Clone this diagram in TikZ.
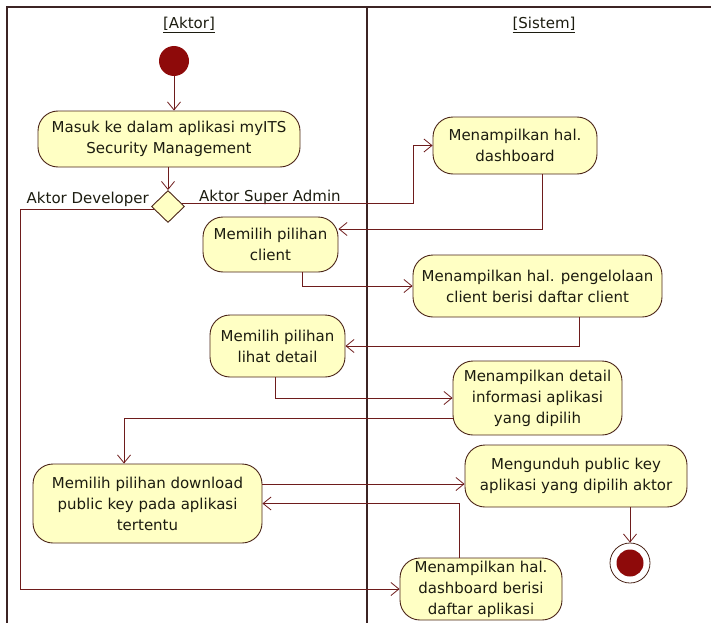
\documentclass[tikz,border=0pt]{standalone}
\usepackage{fontspec}
\setmainfont{DejaVu Sans}
\usetikzlibrary{arrows.meta,shapes.geometric}

\definecolor{flowline}{HTML}{6E1C1C}
\definecolor{boxline}{HTML}{4A2418}
\definecolor{boxfill}{HTML}{FFFFC4}
\definecolor{dotred}{HTML}{8E0A0A}
\definecolor{frameline}{HTML}{3C2424}
\definecolor{inktext}{HTML}{1C1C10}

\tikzset{
  lanetext/.style={font=\fontsize{15}{21}\selectfont, text=inktext},
  activity/.style={lanetext, draw=boxline, fill=boxfill, line width=0.9pt,
    rounded corners=20pt, align=center, inner sep=0pt},
  flow/.style={draw=flowline, line width=1pt,
    -{Straight Barb[length=8pt,width=13pt,line width=0.8pt]}},
  lanerule/.style={draw=frameline, line width=1.6pt},
  choice/.style={diamond, draw=boxline, fill=boxfill, line width=0.9pt,
    minimum width=33pt, minimum height=32pt, inner sep=0pt},
}

\begin{document}
\begin{tikzpicture}[x=1pt, y=-1pt]
  \useasboundingbox (0,0) rectangle (711,623);

  % swimlane frame
  \draw[lanerule] (711,7) -- (7,7) -- (7,623);
  \draw[lanerule, line width=1.2pt] (367,7) -- (367,623);
  \node[lanetext] (laneA) at (189,25) {\underline{[Aktor]}};
  \node[lanetext] (laneS) at (544,25) {\underline{[Sistem]}};

  % initial and final states
  \node[circle, fill=dotred, minimum size=30pt, inner sep=0pt] (start) at (174,61) {};
  \node[circle, draw=boxline, line width=0.8pt, minimum size=40pt, inner sep=0pt] (end) at (630,563) {};
  \fill[dotred] (end) circle (13.5pt);

  % activities
  \node[activity, minimum width=262pt, minimum height=56pt] (a1) at (169,139)
    {Masuk ke dalam aplikasi myITS\\Security Management};
  \node[choice] (dec) at (168,206.5) {};
  \node[activity, minimum width=164pt, minimum height=57pt] (a2) at (515,145.5)
    {Menampilkan hal.\\dashboard};
  \node[activity, minimum width=135pt, minimum height=55pt] (a3) at (270.5,244.5)
    {Memilih pilihan\\client};
  \node[activity, minimum width=249pt, minimum height=62pt] (a4) at (537.5,286)
    {Menampilkan hal. pengelolaan\\client berisi daftar client};
  \node[activity, minimum width=135pt, minimum height=62pt] (a5) at (277.5,346)
    {Memilih pilihan\\lihat detail};
  \node[activity, minimum width=169pt, minimum height=74pt] (a6) at (537.5,398)
    {Menampilkan detail\\informasi aplikasi\\yang dipilih};
  \node[activity, minimum width=229pt, minimum height=79pt] (a7) at (147.5,503.5)
    {Memilih pilihan download\\public key pada aplikasi\\tertentu};
  \node[activity, minimum width=222pt, minimum height=62pt] (a8) at (576,476)
    {Mengunduh public key\\aplikasi yang dipilih aktor};
  \node[activity, minimum width=162pt, minimum height=62pt] (a9) at (481,589)
    {Menampilkan hal.\\dashboard berisi\\daftar aplikasi};

  % guard labels
  \node[lanetext, anchor=south east, inner sep=1pt] (gdev) at (150,208) {Aktor Developer};
  \node[lanetext, anchor=south west, inner sep=1pt] (gadm) at (198,206) {Aktor Super Admin};

  % control flow
  \coordinate (devturn) at (20,589);
  \coordinate (admturn) at (413,145.5);
  \draw[flow] (start) -- (start |- a1.north);
  \draw[flow] (a1.south -| dec) -- (dec.north);
  \draw[flow] ([shift={(-3pt,3pt)}]dec.east) -| (admturn) -- (a2.west);
  \draw[flow] ([shift={(3pt,-3pt)}]dec.west) -| (devturn) -- (a9.west);
  \draw[flow] ([xshift=27pt]a2.south) |- ([yshift=15.5pt]a3.east);
  \draw[flow] ([xshift=31.5pt]a3.south) |- (a4.west);
  \draw[flow] ([xshift=41.5pt]a4.south) |- (a5.east);
  \draw[flow] ([xshift=-2.5pt]a5.south) |- (a6.west);
  \draw[flow] ([yshift=-20pt]a6.west) -| ([xshift=-23.5pt]a7.north);
  \draw[flow] ([yshift=19.5pt]a7.east) -- ([yshift=19.5pt]a7.east -| a8.west);
  \draw[flow] ([xshift=-22pt]a9.north) |- (a7.east);
  \draw[flow] (a8.south -| end) -- (end.north);
\end{tikzpicture}
\end{document}
